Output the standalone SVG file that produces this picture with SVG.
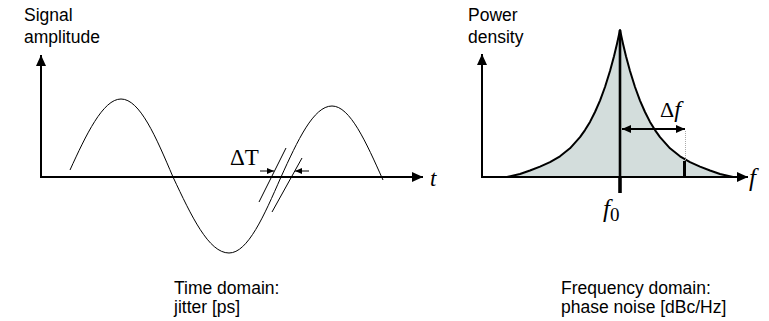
<svg xmlns="http://www.w3.org/2000/svg" width="769" height="321" viewBox="0 0 769 321">
<style>
.ax{stroke:#000;stroke-width:2;fill:none}
.thin{stroke:#000;stroke-width:1;fill:none}
.sans{font-family:"Liberation Sans",Arial,sans-serif;font-size:17.5px;fill:#000}
.ser{font-family:"Liberation Serif","Times New Roman",serif;fill:#000}
.it{font-style:italic}
</style>
<defs>
<marker id="ah" markerUnits="userSpaceOnUse" markerWidth="11" markerHeight="10" refX="11" refY="5" orient="auto">
<path d="M0,0 L11,5 L0,10 z" fill="#000"/>
</marker>
<marker id="ahs" markerUnits="userSpaceOnUse" markerWidth="7" markerHeight="6" refX="7" refY="3" orient="auto">
<path d="M0,0 L7,3 L0,6 z" fill="#000"/>
</marker>
<marker id="ahm" markerUnits="userSpaceOnUse" markerWidth="9" markerHeight="8" refX="9" refY="4" orient="auto-start-reverse">
<path d="M0,0 L9,4 L0,8 z" fill="#000"/>
</marker>
</defs>

<g id="time-domain">
<line class="ax" x1="41" y1="178" x2="41" y2="55" marker-end="url(#ah)"/>
<line class="ax" x1="40" y1="177" x2="423" y2="177" marker-end="url(#ah)"/>
<path class="thin" d="M70,170 C86,135 103,99 121,99 C139.8,99 156,137 173,177 C191.3,215.9 208.7,253 229,253 C247.8,253 264,215.9 281,177 C297.6,140.6 313.5,106 332,106 C350,106 366,142 383,180"/>
<g id="jitter">
<line class="thin" x1="259" y1="202" x2="286" y2="148"/>
<line class="thin" x1="272" y1="212" x2="302" y2="158"/>
<line class="thin" x1="260" y1="171" x2="274" y2="171" marker-end="url(#ahs)"/>
<line class="thin" x1="309" y1="171" x2="295" y2="171" marker-end="url(#ahs)"/>
<text class="ser" x="230" y="165" font-size="23">ΔT</text>
</g>
<text class="ser it" x="430" y="186" font-size="23">t</text>
<text class="sans" x="24" y="21">Signal</text>
<text class="sans" x="24" y="43">amplitude</text>
<text class="sans" x="174" y="294">Time domain:</text>
<text class="sans" x="174" y="313">jitter [ps]</text>
</g>

<g id="frequency-domain">
<path d="M507,177 L520,174 L530,170.5 L540,166.6 L550,162.1 L560,156.3 L570,148.3 L580,137.2 L585,130.1 L590,121.9 L595,112 L600,100.6 L605,87 L610,71 L614,56.2 L617,43.7 L620,30 L623,43.7 L626,56.2 L630,71 L635,87 L640,100.6 L645,112 L650,121.9 L655,130.1 L660,137.2 L670,148.3 L680,156.3 L690,162.1 L700,166.6 L710,170.5 L720,174 L733,177 Z" fill="#d3dddc" stroke="#000" stroke-width="2" stroke-linejoin="round"/>
<line class="ax" x1="482" y1="178" x2="482" y2="54" marker-end="url(#ah)"/>
<line class="ax" x1="481" y1="177" x2="748" y2="177" marker-end="url(#ah)"/>
<line x1="620" y1="30" x2="620" y2="193" stroke="#000" stroke-width="2.6"/>
<line x1="620" y1="177" x2="620" y2="193" stroke="#000" stroke-width="3.4"/>
<line x1="684.5" y1="161" x2="684.5" y2="178" stroke="#000" stroke-width="3"/>
<line x1="685.5" y1="131" x2="685.5" y2="161" stroke="#aaa" stroke-width="1" stroke-dasharray="1,1"/>
<line class="ax" x1="622" y1="129" x2="685" y2="129" marker-start="url(#ahm)" marker-end="url(#ahm)"/>
<text class="ser" x="660" y="117" font-size="22">Δ<tspan class="it" font-size="24">f</tspan></text>
<text class="ser it" x="749" y="186" font-size="25">f</text>
<text class="ser" x="603" y="217"><tspan class="it" font-size="25">f</tspan><tspan font-size="19" dy="4">0</tspan></text>
<text class="sans" x="468" y="21">Power</text>
<text class="sans" x="468" y="43">density</text>
<text class="sans" x="561" y="294">Frequency domain:</text>
<text class="sans" x="561" y="313">phase noise [dBc/Hz]</text>
</g>
</svg>
